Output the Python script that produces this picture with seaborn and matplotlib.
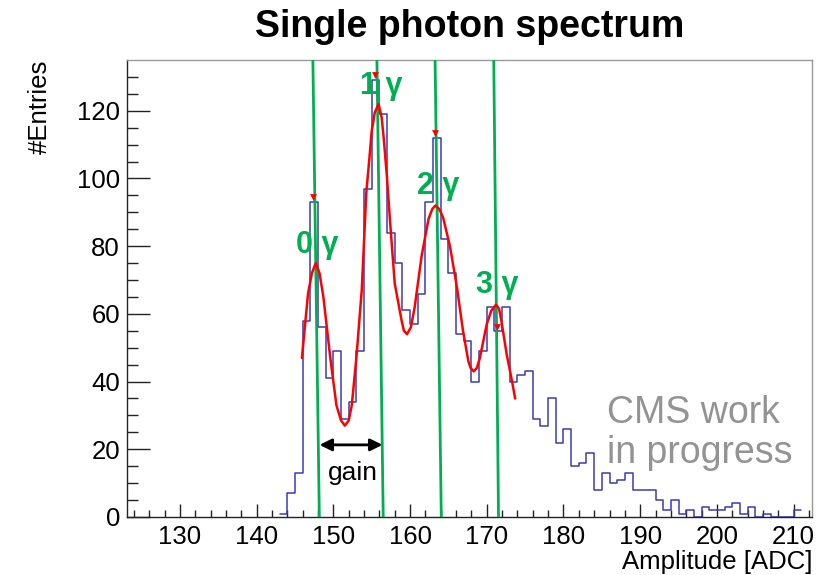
import numpy as np
import pandas as pd
import matplotlib
matplotlib.use("Agg")
import matplotlib.pyplot as plt
import seaborn as sns

# histogram: 1 ADC bins, left edges 143..210
bin_left = list(range(143, 211))
counts = [1, 7, 13, 58, 93, 56, 41, 49, 29, 34,
          49, 97, 129, 119, 84, 75, 61, 57, 66, 93,
          112, 82, 72, 54, 52, 40, 49, 62, 55, 62,
          40, 42, 43, 29, 27, 35, 22, 26, 15, 16,
          19, 8, 13, 10, 11, 13, 8, 8, 8, 5,
          2, 5, 1, 2, 0, 3, 2, 2, 3, 4,
          1, 3, 0, 1, 0, 0, 0, 2]

# multi-gaussian fit curve
fit_x = [145.9, 146.7, 147.2, 147.7, 148.2, 148.7, 149.6, 150.4, 151.0, 151.5,
         152.0, 152.4, 153.0, 153.7, 154.3, 154.7, 155.0, 155.4, 155.9, 156.3,
         156.6, 157.0, 157.4, 158.0, 158.9, 159.2, 159.6, 160.1, 160.6, 161.5,
         162.4, 162.9, 163.3, 163.8, 164.3, 165.2, 166.1, 166.9, 167.6, 167.9,
         168.3, 168.7, 169.1, 170.0, 170.6, 171.2, 171.6, 171.9, 172.6, 173.3,
         173.7]
fit_y = [47, 66, 72, 75, 72, 65, 47, 33, 28.5, 27,
         28.5, 33, 47, 67, 96, 106, 114, 119.5, 122, 118,
         111, 100, 87, 69, 58, 55, 54, 56, 62, 77,
         88, 91, 92, 91, 88.5, 80, 68, 55, 46, 44,
         43, 44, 47, 57, 61, 62.7, 61.5, 58, 48, 40,
         35]

# peaks found
peak_x = [147.3, 155.4, 163.3, 171.3]
peak_y = [94.5, 130.5, 113.5, 56]
peak_labels = ["0 γ", "1 γ", "2 γ", "3 γ"]
label_x = [145.1, 153.5, 160.9, 168.6]
label_y = [78, 125, 95.5, 66.2]
# green marker lines (slightly tilted)
line_bottom_x = [148.17, 156.5, 164.07, 171.53]
line_top_x = [147.33, 155.68, 163.26, 170.91]

sns.set_theme(style="ticks")
plt.rcParams["font.family"] = ["Liberation Sans", "DejaVu Sans"]
plt.rcParams["text.color"] = "black"
plt.rcParams["axes.labelcolor"] = "black"

fig = plt.figure(figsize=(8.28, 5.75), dpi=100)
ax = fig.add_axes([0.1534, 0.1009, 0.8273, 0.7948])

df = pd.DataFrame({"adc": np.array(bin_left) + 0.5, "n": counts})
sns.histplot(data=df, x="adc", weights="n", binwidth=1, binrange=(143, 211), element="step",
             fill=False, color="#3a3ab8", linewidth=1.1, ax=ax)

green = "#00b050"
for b, t in zip(line_bottom_x, line_top_x):
    ax.plot([b, t], [0, 135], color=green, lw=2, zorder=3)

sns.lineplot(x=fit_x, y=fit_y, color="red", lw=1.8, sort=False, estimator=None, ax=ax, zorder=4)
ax.scatter(peak_x, peak_y, marker="v", color="red", s=24, zorder=5, linewidths=0)

for lx, ly, txt in zip(label_x, label_y, peak_labels):
    ax.text(lx, ly, txt, color=green, fontsize=22, fontweight="bold", ha="left", va="baseline", zorder=6)

ax.annotate("", xy=(156.4, 21.3), xytext=(148.2, 21.3),
            arrowprops=dict(arrowstyle="<|-|>", color="black", lw=2, mutation_scale=18, shrinkA=0, shrinkB=0))
ax.text(152.6, 10.9, "gain", fontsize=19, color="black", ha="center", va="baseline")

ax.text(0.700, 0.206, "CMS work", transform=ax.transAxes, fontsize=27, color="#939393", va="baseline")
ax.text(0.700, 0.118, "in progress", transform=ax.transAxes, fontsize=27, color="#939393", va="baseline")

ax.set_xlim(123.1, 212.4)
ax.set_ylim(0, 135)
ax.set_xticks(range(130, 211, 10))
ax.set_xticks(np.arange(124, 213, 2), minor=True)
ax.set_yticks(range(0, 121, 20))
ax.set_yticks(range(0, 135, 5), minor=True)
ax.tick_params(axis="both", which="both", direction="in", labelsize=18.5, width=1, colors="#222222")
ax.tick_params(axis="x", which="major", length=9.5, pad=6)
ax.tick_params(axis="x", which="minor", length=5)
ax.tick_params(axis="y", which="major", length=16.5, pad=5)
ax.tick_params(axis="y", which="minor", length=8)
ax.tick_params(labelcolor="black")

for side in ["left", "bottom"]:
    ax.spines[side].set_color("#222222")
for side in ["top", "right"]:
    ax.spines[side].set_visible(True)
    ax.spines[side].set_color("#999999")
for s in ax.spines.values():
    s.set_linewidth(1)

ax.set_xlabel("Amplitude [ADC]", fontsize=18.5, loc="right")
ax.xaxis.set_label_coords(1.0, -0.073)
ax.set_ylabel("#Entries", fontsize=18.5, loc="top")
ax.yaxis.set_label_coords(-0.11, 1.0)

fig.text(0.567, 0.953, "Single photon spectrum", fontsize=27, fontweight="bold",
         color="black", ha="center", va="center")

fig.savefig("out.png", dpi=100)
